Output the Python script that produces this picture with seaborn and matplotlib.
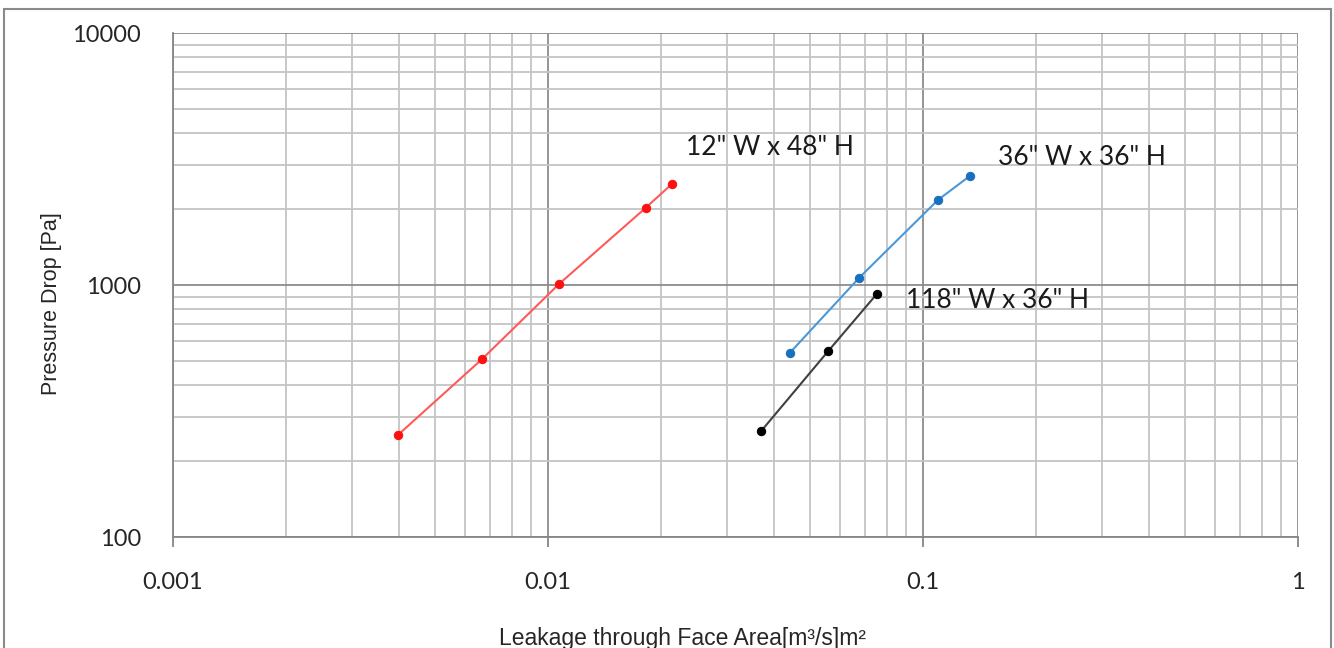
import numpy as np
import pandas as pd
import matplotlib
matplotlib.use('Agg')
import matplotlib.pyplot as plt
import seaborn as sns
from matplotlib.ticker import LogLocator, FixedLocator, NullFormatter
from matplotlib.patches import Rectangle

# leakage [m3/s per m2] vs pressure drop [Pa]
leak_12x48 = [0.00398, 0.00667, 0.0107, 0.0182, 0.0214]
dp_12x48 = [254, 508, 1009, 2021, 2517]
leak_36x36 = [0.0441, 0.0675, 0.1096, 0.1333]
dp_36x36 = [537, 1066, 2175, 2707]
leak_118x36 = [0.0370, 0.0559, 0.0753]
dp_118x36 = [263, 547, 921]

series_names = ['12" W x 48" H', '36" W x 36" H', '118" W x 36" H']
x_ticks = [0.001, 0.01, 0.1, 1]
x_tick_labels = ['0.001', '0.01', '0.1', '1']
y_ticks = [100, 1000, 10000]
y_tick_labels = ['100', '1000', '10000']

df = pd.DataFrame({
    'leak': leak_12x48 + leak_36x36 + leak_118x36,
    'dp': dp_12x48 + dp_36x36 + dp_118x36,
    'size': [series_names[0]] * len(leak_12x48) + [series_names[1]] * len(leak_36x36)
            + [series_names[2]] * len(leak_118x36),
})

sns.set_theme(style='white')
plt.rcParams['font.family'] = ['Lato', 'DejaVu Sans']

fig = plt.figure(figsize=(13.34, 6.48), dpi=100)
ax = fig.add_axes([173 / 1334, 1 - 537 / 648, 1125 / 1334, 504 / 648])

line_cols = {series_names[0]: '#ff5a5a', series_names[1]: '#4a98d8', series_names[2]: '#404040'}
mark_cols = {series_names[0]: '#ff1010', series_names[1]: '#1a70c0', series_names[2]: '#000000'}
for name in series_names:
    sub = df[df['size'] == name]
    sns.lineplot(data=sub, x='leak', y='dp', ax=ax, color=line_cols[name], lw=1.5,
                 marker='o', markersize=6, markerfacecolor=mark_cols[name],
                 markeredgecolor=mark_cols[name], sort=False, legend=False)

ax.set_xscale('log')
ax.set_yscale('log')
ax.set_xlim(0.001, 1)
ax.set_ylim(100, 10000)

ax.xaxis.set_major_locator(FixedLocator(x_ticks))
ax.set_xticklabels(x_tick_labels)
ax.yaxis.set_major_locator(FixedLocator(y_ticks))
ax.set_yticklabels(y_tick_labels)
ax.xaxis.set_minor_locator(LogLocator(base=10, subs=np.arange(2, 10)))
ax.yaxis.set_minor_locator(LogLocator(base=10, subs=np.arange(2, 10)))
ax.xaxis.set_minor_formatter(NullFormatter())
ax.yaxis.set_minor_formatter(NullFormatter())

ax.grid(True, which='major', color='#8c8c8c', lw=1.3)
ax.grid(True, which='minor', color='#c4c4c4', lw=1.3)
ax.set_axisbelow(True)
for side in ['left', 'bottom']:
    ax.spines[side].set_color('#868686')
    ax.spines[side].set_linewidth(1.3)
for side in ['top', 'right']:
    ax.spines[side].set_visible(False)

ax.tick_params(axis='x', which='major', direction='out', length=7, width=1.3, color='#868686',
               bottom=True, pad=18, labelsize=17, labelcolor='#262626')
ax.tick_params(axis='y', which='major', length=0, pad=23, labelsize=17, labelcolor='#262626')
ax.tick_params(which='minor', length=0)

ax.set_xlabel('Leakage through Face Area[m³/s]m²', fontsize=16.5, family=['Liberation Sans', 'DejaVu Sans'],
              color='#262626')
ax.set_ylabel('Pressure Drop [Pa]', fontsize=15.5, family=['Liberation Sans', 'DejaVu Sans'],
              color='#262626')
ax.xaxis.set_label_coords(0.453, -0.178)
ax.yaxis.set_label_coords(-0.0987, 0.464)

ax.text(0.0233, 3500, series_names[0], fontsize=19, va='center', ha='left', color='#1a1a1a')
ax.text(0.1585, 3220, series_names[1], fontsize=19, va='center', ha='left', color='#1a1a1a')
ax.text(0.0902, 871, series_names[2], fontsize=19, va='center', ha='left', color='#1a1a1a')

fig.patches.append(Rectangle((4 / 1334, -0.02), 1327 / 1334, 1.02 - 9 / 648, transform=fig.transFigure,
                             fill=False, edgecolor='#8a8a8a', lw=1.5))

fig.savefig('out.png', dpi=100)
